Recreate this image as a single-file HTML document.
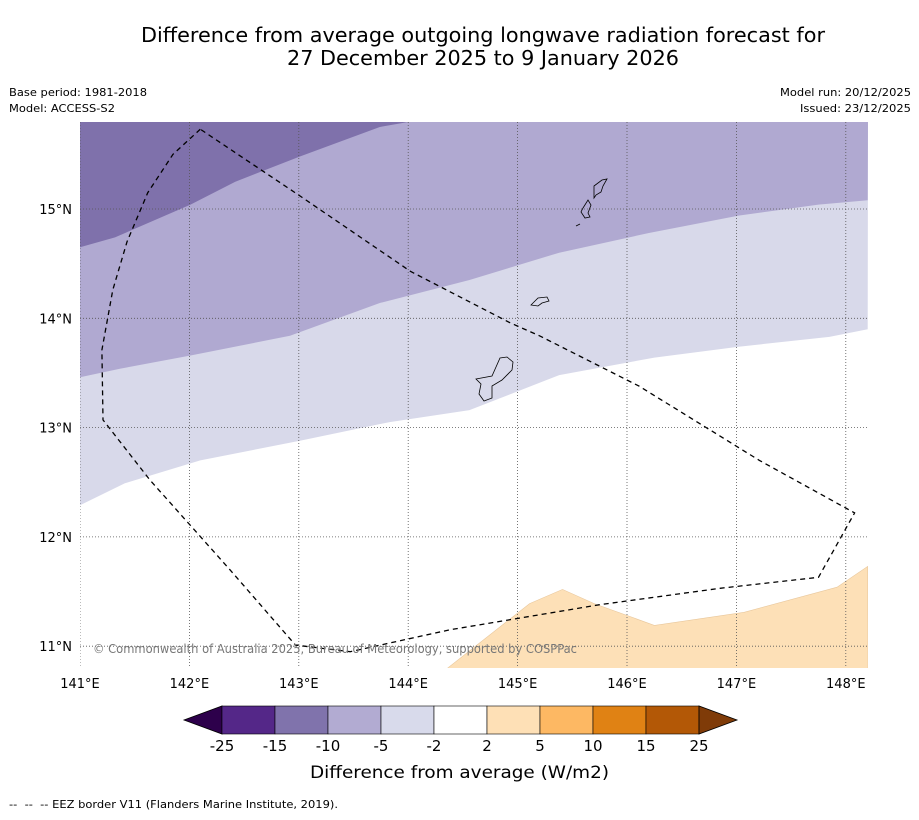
<!DOCTYPE html>
<html><head><meta charset="utf-8"><style>
body{margin:0;background:#fff;width:919px;height:816px;overflow:hidden;font-family:"DejaVu Sans",sans-serif}
</style></head><body>
<svg width="919" height="816" xmlns="http://www.w3.org/2000/svg" font-family="DejaVu Sans, sans-serif">
<text x="141" y="42" font-size="20" textLength="684" lengthAdjust="spacingAndGlyphs">Difference from average outgoing longwave radiation forecast for</text>
<text x="287" y="65" font-size="20" textLength="392" lengthAdjust="spacingAndGlyphs">27 December 2025 to 9 January 2026</text>
<text x="9" y="96" font-size="11" textLength="138" lengthAdjust="spacingAndGlyphs">Base period: 1981-2018</text>
<text x="9" y="112" font-size="11" textLength="106" lengthAdjust="spacingAndGlyphs">Model: ACCESS-S2</text>
<text x="780" y="96" font-size="11" textLength="131" lengthAdjust="spacingAndGlyphs">Model run: 20/12/2025</text>
<text x="800" y="112" font-size="11" textLength="111" lengthAdjust="spacingAndGlyphs">Issued: 23/12/2025</text>
<g id="map"></g>
<g id="cbar"></g>
<text x="310" y="778" font-size="17" textLength="299" lengthAdjust="spacingAndGlyphs">Difference from average (W/m2)</text>
<text x="9" y="808" font-size="11" textLength="329" lengthAdjust="spacingAndGlyphs" xml:space="preserve">--  --  -- EEZ border V11 (Flanders Marine Institute, 2019).</text>
</svg>
<script>
const lonTicks=[141,142,143,144,145,146,147,148];
const latTicks=[11,12,13,14,15];
const b1=[[141,14.65],[141.32,14.74],[142.01,15.04],[142.42,15.25],[143.01,15.48],[143.74,15.75],[144.02,15.80]];
const b2=[[141,13.46],[141.37,13.54],[142.01,13.66],[142.92,13.84],[143.74,14.14],[144.56,14.35],[145.38,14.60],[146.20,14.78],[147.02,14.94],[147.75,15.04],[148.2,15.08]];
const b3=[[141,12.29],[141.41,12.49],[142.10,12.70],[143.01,12.88],[143.83,13.05],[144.56,13.16],[145.38,13.48],[146.25,13.64],[147.02,13.74],[147.85,13.83],[148.2,13.90]];
const orange=[[144.36,10.8],[145.11,11.39],[145.41,11.52],[145.70,11.39],[146.25,11.19],[147.07,11.31],[147.92,11.54],[148.2,11.73]];
const eez=[[142.10,15.73],[141.85,15.50],[141.62,15.15],[141.43,14.70],[141.30,14.26],[141.20,13.71],[141.21,13.07],[141.64,12.52],[142.37,11.70],[142.97,11.01],[143.47,10.95],[144.38,11.15],[145.75,11.38],[146.85,11.53],[147.75,11.63],[148.08,12.22],[147.21,12.70],[146.11,13.38],[145.20,13.84],[144.93,13.96],[144.02,14.43],[143.01,15.12],[142.10,15.73]];
const cbLabels=["-25","-15","-10","-5","-2","2","5","10","15","25"];
const cbColors=["#542788","#8073ac","#b2abd2","#d8daeb","#ffffff","#fee0b6","#fdb863","#e08214","#b35806"];
const X=l=>80+(l-141)*109.4, Y=l=>209-(l-15)*109.3;
const NS="http://www.w3.org/2000/svg";
function mk(t,a,p){const e=document.createElementNS(NS,t);for(const k in a)e.setAttribute(k,a[k]);p.appendChild(e);return e;}
const m=document.getElementById('map'), x0=80,x1=868,y0=122,y1=668;
const clip=mk('clipPath',{id:'c'},m);mk('rect',{x:x0,y:y0,width:x1-x0,height:y1-y0},clip);
const g=mk('g',{'clip-path':'url(#c)'},m);
const pts=a=>a.map(p=>X(p[0]).toFixed(1)+','+Y(p[1]).toFixed(1)).join(' ');
mk('rect',{x:x0,y:y0,width:x1-x0,height:y1-y0,fill:'#fff'},g);
let p=mk('polygon',{points:pts(b3)+` ${x1},${y0-5} ${x0},${y0-5}`,fill:'#d8d9ea'},g);

p=mk('polygon',{points:pts(b2)+` ${x1},${y0-5} ${x0},${y0-5}`,fill:'#b0a9d1'},g);

p=mk('polygon',{points:pts(b1)+` ${x0},${y0-5}`,fill:'#7f71ab'},g);

p=mk('polygon',{points:pts(orange)+` ${x1},${y1+5} ${X(144.36)},${y1+5}`,fill:'#fde0b7',stroke:'#e8c79c','stroke-width':0.6},g);

lonTicks.forEach(l=>{const x=X(l);
 let e=mk('line',{x1:x,y1:y0,x2:x,y2:y1,stroke:'#555','stroke-width':0.8,'stroke-dasharray':'1,2'},g);
 
 e=mk('text',{x:x,y:688,'font-size':13,'text-anchor':'middle'},m);e.textContent=l+'°E';
 });
latTicks.forEach(l=>{const y=Y(l);
 let e=mk('line',{x1:x0,y1:y,x2:x1,y2:y,stroke:'#555','stroke-width':0.8,'stroke-dasharray':'1,2'},g);
 
 e=mk('text',{x:72,y:y+5,'font-size':13,'text-anchor':'end'},m);e.textContent=l+'°N';
 });
[["M476,379 L492,376 L500,358 L507,357 L513,362 L512,370 L502,380 L492,386 L492,398 L484,401 L479,394 L481,384 Z","guam"],
 ["M531,305 L538,298 L547,297 L549,301 L542,303 L538,306 Z","rota"],
 ["M583,208 L588,200 L591,205 L588,213 L590,217 L585,218 L581,212 Z","tinian"],
 ["M594,186 L602,180 L607,179 L603,186 L601,192 L596,195 L594,198 Z","saipan"],
 ["M576,226 L580,224","aguijan"]].forEach(d=>{let e=mk('path',{d:d[0],fill:'none',stroke:'#000','stroke-width':0.8},g);
 });
let eline=mk('polyline',{points:pts(eez),fill:'none',stroke:'#000','stroke-width':1.3,'stroke-dasharray':'5,4'},g);

let cp=mk('text',{x:93,y:653,'font-size':12,fill:'#777',textLength:484,lengthAdjust:'spacingAndGlyphs'},m);cp.textContent='© Commonwealth of Australia 2025, Bureau of Meteorology, supported by COSPPac';

const cb=document.getElementById('cbar'),cx0=222,cw=53,cy=706,ch=28;
let t=mk('polygon',{points:`${cx0},${cy} ${cx0},${cy+ch} 184,${cy+ch/2}`,fill:'#2d004b',stroke:'#000','stroke-width':0.8},cb);

cbColors.forEach((c,i)=>{let e=mk('rect',{x:cx0+i*cw,y:cy,width:cw,height:ch,fill:c,stroke:'#000','stroke-width':0.6},cb);
 });
const ce=cx0+cbColors.length*cw;
t=mk('polygon',{points:`${ce},${cy} ${ce},${cy+ch} ${ce+38},${cy+ch/2}`,fill:'#7f3b08',stroke:'#000','stroke-width':0.8},cb);

cbLabels.forEach((s,i)=>{let e=mk('text',{x:cx0+i*cw,y:751,'font-size':15,'text-anchor':'middle'},cb);e.textContent=s;
 });
</script>
</body></html>
